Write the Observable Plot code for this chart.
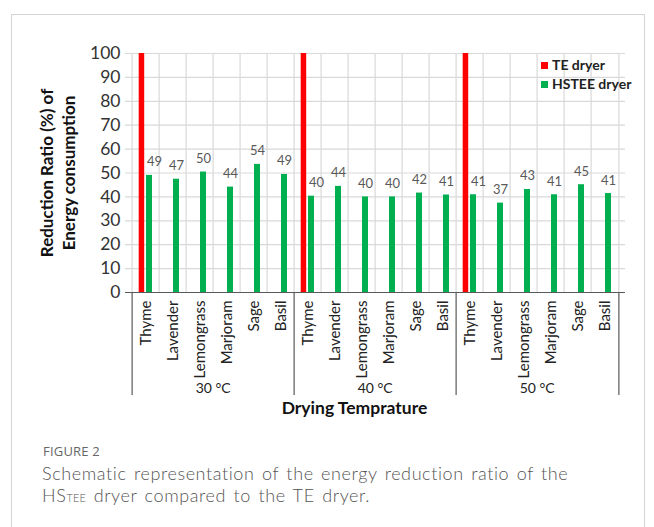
<!DOCTYPE html>
<html><head><meta charset="utf-8">
<script src="https://cdn.jsdelivr.net/npm/d3@7"></script>
<script src="https://cdn.jsdelivr.net/npm/@observablehq/plot@0.6"></script>
<style>
body{margin:0;background:#fff;width:654px;height:527px;overflow:hidden;position:relative;font-family:Lato,sans-serif;}
#frame{position:absolute;left:11px;top:14px;width:632px;height:600px;border:1.5px solid #d4d4d4;}
#chart{position:absolute;left:0;top:0;}
#legend{position:absolute;left:541px;top:55px;font-family:Lato,sans-serif;font-weight:bold;font-size:14px;color:#222;line-height:19px;}
#legend .sw{display:inline-block;width:7px;height:7px;margin-right:4px;vertical-align:1px;}
#fig{position:absolute;left:43px;top:442px;font-family:"Open Sans",sans-serif;font-size:13px;line-height:18px;color:#666;letter-spacing:0.2px;}
#cap{position:absolute;left:42px;top:462px;width:610px;font-family:Lato,sans-serif;font-weight:300;font-size:18px;line-height:22px;color:#555;white-space:nowrap;letter-spacing:0.6px;word-spacing:2px;}
#cap sub{font-size:11px;vertical-align:0;line-height:0;letter-spacing:0.2px;}
</style></head><body>
<div id="frame"></div>
<div id="chart"></div>
<div id="legend"></div>
<div id="fig">FIGURE 2</div>
<div id="cap">Schematic representation of the energy reduction ratio of the<br>HS<sub>TEE</sub> dryer compared to the TE dryer.</div>
<script>
const groups = ["30 °C", "40 °C", "50 °C"];
const herbs = ["Thyme", "Lavender", "Lemongrass", "Marjoram", "Sage", "Basil"];
const teDryerThyme = [100, 100, 100];
const hstee30 = [49.0, 47.4, 50.4, 44.1, 53.6, 49.4];
const hstee40 = [40.3, 44.4, 40.0, 40.0, 41.6, 40.8];
const hstee50 = [40.9, 37.4, 43.1, 40.9, 45.1, 41.4];
const yTicks = [0, 10, 20, 30, 40, 50, 60, 70, 80, 90, 100];
const seriesNames = ["TE dryer", "HSTEE dryer"];
const seriesColors = ["#ff0000", "#00b050"];
const yTitleLines = ["Reduction Ratio (%) of", "Energy consumption"];
const xTitle = "Drying Temprature";

const hstee = [hstee30, hstee40, hstee50];
const keyOf = (g, h) => g + "|" + h;
const keys = groups.flatMap(g => herbs.map(h => keyOf(g, h)));
const green = groups.flatMap((g, gi) => herbs.map((h, hi) => ({key: keyOf(g, h), herb: h, value: hstee[gi][hi]})));
const red = groups.map((g, gi) => ({key: keyOf(g, herbs[0]), value: teDryerThyme[gi]}));

const W = 654, H = 425, mL = 125, mR = 29, mT = 53, mB = 133;
const bw = (W - mL - mR) / keys.length;
const plotH = H - mT - mB;
const gridColor = "#d9d9d9";

const chart = Plot.plot({
  width: W, height: H,
  marginLeft: mL, marginRight: mR, marginTop: mT, marginBottom: mB,
  style: {fontFamily: "Lato, sans-serif", color: "#333", background: "transparent"},
  x: {type: "band", domain: keys, padding: 0, axis: null},
  y: {domain: [0, 100], axis: null},
  marks: [
    Plot.gridY(yTicks, {stroke: gridColor, strokeOpacity: 1, strokeWidth: 1.2}),
    Plot.ruleX(keys, {dx: -bw / 2, stroke: gridColor, strokeWidth: 1.2}),
    Plot.ruleX([keys[keys.length - 1]], {dx: bw / 2, stroke: gridColor, strokeWidth: 1.2}),
    Plot.barY(red, {x: "key", y: "value", fill: seriesColors[0], insetLeft: 6.7, insetRight: 14.8}),
    Plot.barY(green, {x: "key", y: "value", fill: seriesColors[1], insetLeft: 14, insetRight: 7}),
    Plot.text(green.filter(d => d.herb === herbs[0]), {x: "key", y: "value", text: d => d3.format(".0f")(d.value), dx: 8.5, dy: -9, lineAnchor: "bottom", fill: "#595959", fontSize: 13}),
    Plot.text(green.filter(d => d.herb !== herbs[0]), {x: "key", y: "value", text: d => d3.format(".0f")(d.value), dx: 3.5, dy: -9, lineAnchor: "bottom", fill: "#595959", fontSize: 13}),
    Plot.ruleY([0], {stroke: "#595959", strokeWidth: 1.2}),
    Plot.ruleX(groups.map(g => keyOf(g, herbs[0])), {dx: -bw / 2, insetTop: plotH, insetBottom: -103, stroke: "#595959", strokeWidth: 1.2}),
    Plot.ruleX([keys[keys.length - 1]], {dx: bw / 2, insetTop: plotH, insetBottom: -103, stroke: "#595959", strokeWidth: 1.2}),
    Plot.axisY(yTicks, {tickSize: 0, tickPadding: 5, fontSize: 17.5, label: null, fill: "#333"}),
    Plot.axisX({tickFormat: k => k.split("|")[1], tickRotate: -90, tickSize: 0, tickPadding: 8, fontSize: 15, label: null, fill: "#222"}),
    Plot.text(groups, {x: g => keyOf(g, herbs[3]), frameAnchor: "bottom", lineAnchor: "middle", dx: -bw / 2, dy: 96, fontSize: 14, fill: "#222"}),
    Plot.text([xTitle], {frameAnchor: "bottom", lineAnchor: "middle", dx: -21, dy: 116, fontSize: 17.5, fontWeight: "bold", fill: "#111"}),
    Plot.text([yTitleLines.join("\n")], {frameAnchor: "left", textAnchor: "middle", dx: -69, rotate: -90, fontSize: 17, fontWeight: "bold", lineHeight: 1.3, fill: "#111"})
  ]
});
document.getElementById("chart").appendChild(chart);

const legend = document.getElementById("legend");
seriesNames.forEach((n, i) => {
  const row = document.createElement("div");
  const sw = document.createElement("span");
  sw.className = "sw"; sw.style.background = seriesColors[i];
  row.appendChild(sw); row.appendChild(document.createTextNode(n));
  legend.appendChild(row);
});
</script>
</body></html>
